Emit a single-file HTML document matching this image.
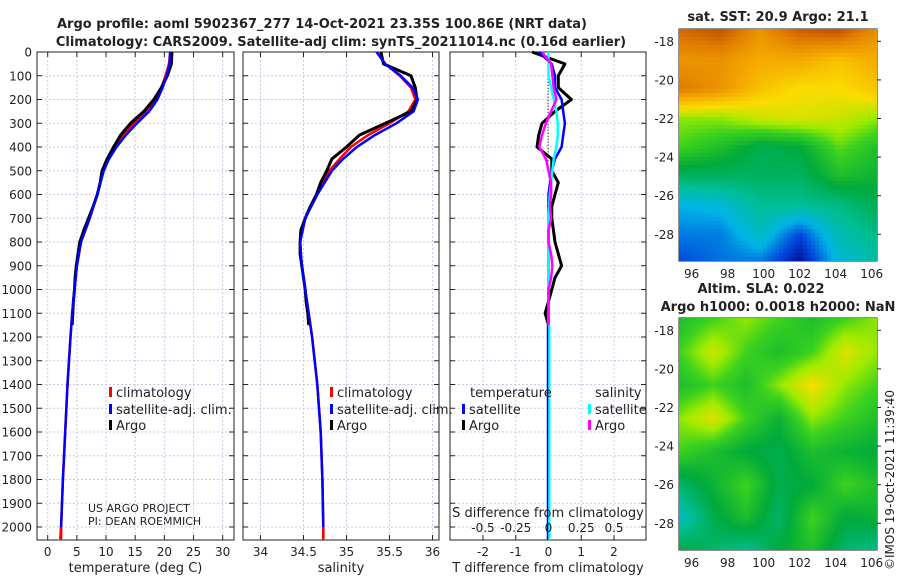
<!DOCTYPE html>
<html><head><meta charset="utf-8"><style>
body{margin:0;background:#fff;width:900px;height:580px;overflow:hidden;font-family:"DejaVu Sans","Liberation Sans",sans-serif}
svg text{font-family:"DejaVu Sans","Liberation Sans",sans-serif;fill:#222}
</style></head><body>
<svg id="fig" width="900" height="580" xmlns="http://www.w3.org/2000/svg">
<text x="322" y="28" text-anchor="middle" font-size="13" font-weight="bold">Argo profile: aoml 5902367_277 14-Oct-2021 23.35S 100.86E (NRT data)</text>
<text x="341" y="46" text-anchor="middle" font-size="13" font-weight="bold">Climatology: CARS2009. Satellite-adj clim: synTS_20211014.nc (0.16d earlier)</text>
<text x="778" y="21" text-anchor="middle" font-size="13" font-weight="bold">sat. SST: 20.9 Argo: 21.1</text>
<text x="761" y="293" text-anchor="middle" font-size="13" font-weight="bold">Altim. SLA: 0.022</text>
<text x="778" y="311" text-anchor="middle" font-size="13" font-weight="bold">Argo h1000: 0.0018 h2000: NaN</text>
<text transform="translate(894,570) rotate(-90)" font-size="12">©IMOS 19-Oct-2021 11:39:40</text>
<text x="88" y="512" font-size="11">US ARGO PROJECT</text>
<text x="88" y="525" font-size="11">PI: DEAN ROEMMICH</text>
<g id="g"></g>
</svg>
<canvas id="c1" width="198" height="232" style="position:absolute;left:679px;top:29px"></canvas>
<canvas id="c2" width="198" height="232" style="position:absolute;left:679px;top:318px"></canvas>
<script>
const depthArgo=[0,50,100,150,200,250,300,350,400,450,500,550,600,650,700,750,800,850,900,950,1000,1050,1100,1150];
const tempArgo=[21.3,21.2,20.5,19.5,18.2,16.5,14.2,12.5,11.3,10.2,9.3,9.0,8.5,7.8,7.0,6.2,5.5,5.2,4.9,4.7,4.6,4.4,4.3,4.2];
const salArgo=[35.4,35.43,35.75,35.8,35.82,35.75,35.45,35.15,35.0,34.83,34.77,34.7,34.65,34.58,34.52,34.47,34.46,34.46,34.48,34.5,34.52,34.53,34.55,34.56];
const depthClim=[0,50,100,150,200,250,300,350,400,450,500,600,700,800,900,1000,1100,1200,1400,1600,1800,2000,2050];
const tempClim=[21.0,20.8,20.2,19.5,18.5,17.0,14.8,13.0,11.5,10.4,9.5,8.5,7.2,5.7,5.0,4.6,4.2,3.9,3.4,3.0,2.6,2.3,2.2];
const tempSat=[21.0,20.9,20.4,19.7,18.8,17.4,15.3,13.4,11.8,10.5,9.6,8.5,7.2,5.7,5.0,4.6,4.2,3.9,3.4,3.0,2.6,2.3,2.2];
const salClim=[35.35,35.45,35.62,35.75,35.8,35.72,35.5,35.25,35.05,34.92,34.8,34.65,34.52,34.46,34.48,34.52,34.56,34.6,34.66,34.7,34.72,34.73,34.73];
const salSat=[35.35,35.45,35.63,35.77,35.83,35.78,35.58,35.33,35.12,34.96,34.83,34.66,34.52,34.46,34.48,34.52,34.56,34.6,34.66,34.7,34.72,34.73,34.73];
const tDiffArgo=[-0.5,0.5,0.3,0.3,0.7,0.2,-0.2,-0.3,-0.35,0.1,0.1,0.3,0.2,0.1,0.1,0.15,0.2,0.3,0.4,0.2,0.1,0.0,-0.1,0.0];
const sDiffArgo=[-0.05,0.02,0.03,0.04,0.06,0.02,-0.02,-0.05,-0.07,-0.02,0.0,0.02,0.02,0.01,0.02,0.0,0.0,0.02,0.03,0.02,0.0,0.0,0.0,0.0];
const tDiffSat=[-0.3,0.1,0.2,0.2,0.4,0.45,0.5,0.45,0.4,0.2,0.1,0,0,0,0,0,0,0,0,0,0,0,0];
const sDiffSat=[0,0.0,0.0,0.02,0.04,0.06,0.07,0.07,0.06,0.04,0.03,0.01,0,0,0,0,0,0,0,0,0,0,0];
const depthTicks=[0,100,200,300,400,500,600,700,800,900,1000,1100,1200,1300,1400,1500,1600,1700,1800,1900,2000];
const tTicks=[0,5,10,15,20,25,30];
const sTicks=[34,34.5,35,35.5,36];
const dTicks=[-2,-1,0,1,2];
const sdTicks=[-0.5,-0.25,0,0.25,0.5];
const sdTickLabels=["-0.5","-0.25","0","0.25","0.5"];

const NS="http://www.w3.org/2000/svg";
const g=document.getElementById('g');
function el(t,a,p){const e=document.createElementNS(NS,t);for(const k in a)e.setAttribute(k,a[k]);(p||g).appendChild(e);return e;}
const Y0=52,Y1=540;
const yD=d=>Y0+d*(527-52)/2000;
function lin(d0,d1,p0,p1){return v=>p0+(v-d0)*(p1-p0)/(d1-d0);}
const panels=[
 {x0:37,x1:234,sx:lin(0,30,47.7,222.7),ticks:tTicks,name:'temperature-panel',label:'temperature (deg C)'},
 {x0:243,x1:439,sx:lin(34,36,260.5,432.5),ticks:sTicks,name:'salinity-panel',label:'salinity'},
 {x0:450,x1:646,sx:lin(-2,2,483,614),ticks:dTicks,name:'difference-panel',label:'T difference from climatology'}];
const sdx=lin(-0.5,0.5,483,614);

panels.forEach((P,i)=>{
 const pg=el('g',{});
 
 
 depthTicks.forEach(d=>{const y=yD(d);el('line',{x1:P.x0,x2:P.x1,y1:y,y2:y,stroke:'#c8cbe8','stroke-dasharray':'2,2','stroke-width':1},pg);
  el('line',{x1:P.x0,x2:P.x0+5,y1:y,y2:y,stroke:'#222'},pg);el('line',{x1:P.x1-5,x2:P.x1,y1:y,y2:y,stroke:'#222'},pg);
  if(i==0){const t=el('text',{x:32,y:y+4.5,'text-anchor':'end','font-size':12},pg);t.textContent=d;}});
 P.ticks.forEach(v=>{const x=P.sx(v);el('line',{x1:x,x2:x,y1:Y0,y2:Y1,stroke:'#c8cbe8','stroke-dasharray':'2,2'},pg);
  el('line',{x1:x,x2:x,y1:Y1-5,y2:Y1,stroke:'#222'},pg);el('line',{x1:x,x2:x,y1:Y0,y2:Y0+5,stroke:'#222'},pg);
  const t=el('text',{x:x,y:556,'text-anchor':'middle','font-size':12},pg);t.textContent=v;});
 const xl=el('text',{x:(P.x0+P.x1)/2,y:572,'text-anchor':'middle','font-size':13},pg);
 xl.textContent=P.label;
 el('rect',{x:P.x0,y:Y0,width:P.x1-P.x0,height:Y1-Y0,fill:'none',stroke:'#222','stroke-width':1},pg);
});

function line(xs,ds,sx,color,name,w){
 const pts=xs.map((v,k)=>sx(v).toFixed(1)+','+yD(ds[k]).toFixed(1)).join(' ');
 const p=el('polyline',{points:pts,fill:'none',stroke:color,'stroke-width':w||2.5,'stroke-linejoin':'round'});
 
 
}
const [P1,P2,P3]=panels;
line(tempClim,depthClim,P1.sx,'#f00','temp-climatology-line');
line(tempArgo,depthArgo,P1.sx,'#000','temp-argo-line',3);
line(tempSat,depthClim,P1.sx,'#00f','temp-satellite-line');
line(salClim,depthClim,P2.sx,'#f00','sal-climatology-line');
line(salArgo,depthArgo,P2.sx,'#000','sal-argo-line',3);
line(salSat,depthClim,P2.sx,'#00f','sal-satellite-line');
el('line',{x1:548,x2:548,y1:yD(100),y2:yD(500),stroke:'#000','stroke-dasharray':'1,2'});
line(tDiffArgo,depthArgo,P3.sx,'#000','tdiff-argo-line',3);
line(tDiffSat,depthClim,P3.sx,'#00f','tdiff-satellite-line');
line(sDiffSat,depthClim,sdx,'#0ff','sdiff-satellite-line');
line(sDiffArgo,depthArgo,sdx,'#f0f','sdiff-argo-line');
el('line',{x1:549,x2:549,y1:yD(1150),y2:Y1,stroke:'#0ff','stroke-width':3});
el('line',{x1:547.5,x2:547.5,y1:yD(1150),y2:Y1,stroke:'#00f','stroke-width':1.5});
sdTicks.forEach((v,k)=>{const t=el('text',{x:sdx(v),y:532,'text-anchor':'middle','font-size':12});t.textContent=sdTickLabels[k];});
const st=el('text',{x:548,y:517,'text-anchor':'middle','font-size':13});st.textContent='S difference from climatology';
el('line',{x1:P1.sx(2.3),x2:P1.sx(2.3),y1:527,y2:Y1,stroke:'#f00','stroke-width':2.5});
el('line',{x1:P2.sx(34.73),x2:P2.sx(34.73),y1:527,y2:Y1,stroke:'#f00','stroke-width':2.5});
function leg(x,y,c,txt,n){el('rect',{x:x,y:y-10,width:3,height:10,fill:c});const t=el('text',{x:x+7,y:y,'font-size':13});t.textContent=txt;}
leg(109,397,'#f00','climatology','legend-climatology');leg(109,414,'#00f','satellite-adj. clim.','legend-satellite');leg(109,430,'#000','Argo','legend-argo');
leg(330,397,'#f00','climatology','legend-climatology-s');leg(330,414,'#00f','satellite-adj. clim.','legend-satellite-s');leg(330,430,'#000','Argo','legend-argo-s');
let t=el('text',{x:470,y:397,'font-size':13});t.textContent='temperature';
t=el('text',{x:595,y:397,'font-size':13});t.textContent='salinity';
leg(462,414,'#00f','satellite','legend-t-satellite');leg(462,430,'#000','Argo','legend-t-argo');
leg(588,414,'#0ff','satellite','legend-s-satellite');leg(588,430,'#f0f','Argo','legend-s-argo');

const lonTicks=[96,98,100,102,104,106], latTicks=[-18,-20,-22,-24,-26,-28];
function mapAxes(top,name){
 const mg=el('g',{});
 const lx=lin(96,106,691.7,871.7), ly=lin(-18,-28,top+12.3,top+205.3);
 el('rect',{x:679,y:top,width:198,height:232,fill:'none',stroke:'#222'},mg);
 lonTicks.forEach(v=>{const x=lx(v);el('line',{x1:x,x2:x,y1:top+232,y2:top+228,stroke:'#222'},mg);const tt=el('text',{x:x,y:top+249,'text-anchor':'middle','font-size':12},mg);tt.textContent=v;});
 latTicks.forEach(v=>{const y=ly(v);el('line',{x1:877,x2:881,y1:y,y2:y,stroke:'#222'},mg);const tt=el('text',{x:674,y:y+4.5,'text-anchor':'end','font-size':12},mg);tt.textContent=v;});
 el('ellipse',{cx:lx(100.86),cy:ly(-23.35),rx:5,ry:6,fill:'none',stroke:'#000','stroke-width':1.3},mg);
}
mapAxes(29,'sst-map');mapAxes(318,'sla-map');

const sstGrid=[[.88,.92,.8,.9,.92,.8],[.8,.8,.75,.75,.7,.75],[.85,.8,.7,.65,.65,.7],[.55,.55,.6,.62,.6,.55],[.5,.45,.38,.4,.52,.45],[.36,.36,.36,.36,.45,.42],[.2,.22,.3,.3,.32,.38],[.15,.15,.25,.1,.27,.32],[.1,.14,.14,.02,.22,.28]];
const slaGrid=[[.45,.5,.55,.5,.45,.5,.55],[.5,.6,.5,.45,.5,.62,.55],[.45,.5,.45,.55,.65,.55,.5],[.55,.62,.5,.42,.55,.5,.45],[.5,.45,.4,.38,.45,.42,.4],[.35,.42,.5,.38,.4,.5,.45],[.25,.38,.45,.35,.5,.4,.42],[.4,.35,.3,.4,.45,.35,.3]];
const stops=[[0,[0,0,130]],[.1,[0,70,220]],[.2,[0,180,230]],[.3,[0,190,150]],[.4,[0,170,60]],[.5,[60,210,30]],[.56,[160,235,0]],[.65,[250,220,0]],[.75,[245,170,0]],[.85,[225,125,0]],[1,[160,40,0]]];
function cmap(v){v=Math.max(0,Math.min(1,v));for(let i=1;i<stops.length;i++){if(v<=stops[i][0]){const [a,ca]=stops[i-1],[b,cb]=stops[i];const f=(v-a)/(b-a);return ca.map((q,k)=>Math.round(q+(cb[k]-q)*f));}}return stops[stops.length-1][1];}
function draw(id,grid,cell){
 const ctx=document.getElementById(id).getContext('2d');const R=grid.length,C=grid[0].length;
 for(let y=0;y<232;y+=cell)for(let x=0;x<198;x+=cell){
  const gy=y/232*(R-1),gx=x/198*(C-1);const i=Math.min(R-2,Math.floor(gy)),j=Math.min(C-2,Math.floor(gx));const fy=gy-i,fx=gx-j;
  const v=grid[i][j]*(1-fx)*(1-fy)+grid[i][j+1]*fx*(1-fy)+grid[i+1][j]*(1-fx)*fy+grid[i+1][j+1]*fx*fy;
  const c=cmap(v);ctx.fillStyle=`rgb(${c[0]},${c[1]},${c[2]})`;ctx.fillRect(x,y,cell,cell);}
}
draw('c1',sstGrid,4);draw('c2',slaGrid,2);
</script>
</body></html>
